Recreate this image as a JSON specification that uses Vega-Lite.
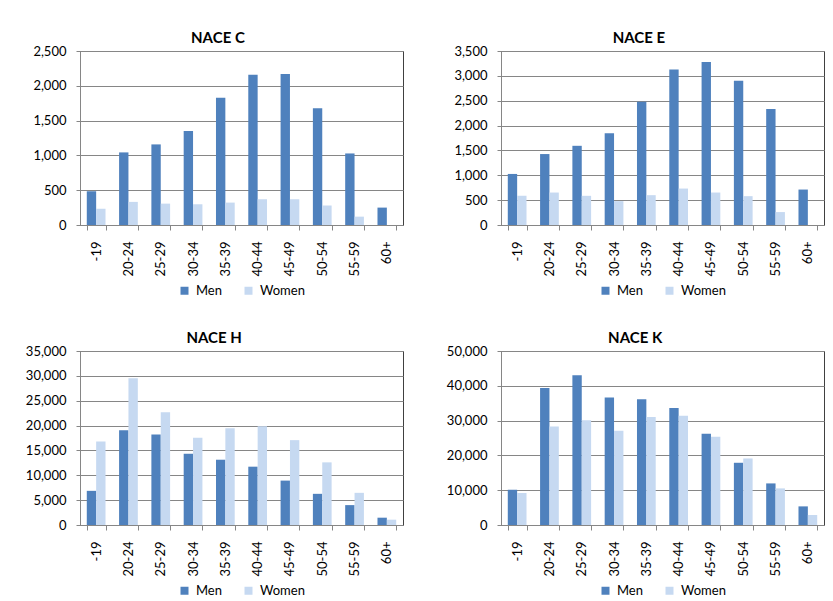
{
  "$schema": "https://vega.github.io/schema/vega-lite/v6.json",
  "background": "white",
  "padding": {"left": 24, "top": 30, "right": 5, "bottom": 0},
  "datasets": {
    "employees": [
      {"sector": "NACE C", "age": "-19", "sex": "Men", "value": 485},
      {"sector": "NACE C", "age": "20-24", "sex": "Men", "value": 1043},
      {"sector": "NACE C", "age": "25-29", "sex": "Men", "value": 1158},
      {"sector": "NACE C", "age": "30-34", "sex": "Men", "value": 1350},
      {"sector": "NACE C", "age": "35-39", "sex": "Men", "value": 1830},
      {"sector": "NACE C", "age": "40-44", "sex": "Men", "value": 2157},
      {"sector": "NACE C", "age": "45-49", "sex": "Men", "value": 2170},
      {"sector": "NACE C", "age": "50-54", "sex": "Men", "value": 1676},
      {"sector": "NACE C", "age": "55-59", "sex": "Men", "value": 1028},
      {"sector": "NACE C", "age": "60+", "sex": "Men", "value": 250},
      {"sector": "NACE C", "age": "-19", "sex": "Women", "value": 235},
      {"sector": "NACE C", "age": "20-24", "sex": "Women", "value": 332},
      {"sector": "NACE C", "age": "25-29", "sex": "Women", "value": 307},
      {"sector": "NACE C", "age": "30-34", "sex": "Women", "value": 298},
      {"sector": "NACE C", "age": "35-39", "sex": "Women", "value": 322},
      {"sector": "NACE C", "age": "40-44", "sex": "Women", "value": 370},
      {"sector": "NACE C", "age": "45-49", "sex": "Women", "value": 370},
      {"sector": "NACE C", "age": "50-54", "sex": "Women", "value": 280},
      {"sector": "NACE C", "age": "55-59", "sex": "Women", "value": 120},
      {"sector": "NACE C", "age": "60+", "sex": "Women", "value": 0},
      {"sector": "NACE E", "age": "-19", "sex": "Men", "value": 1027},
      {"sector": "NACE E", "age": "20-24", "sex": "Men", "value": 1427},
      {"sector": "NACE E", "age": "25-29", "sex": "Men", "value": 1593},
      {"sector": "NACE E", "age": "30-34", "sex": "Men", "value": 1847},
      {"sector": "NACE E", "age": "35-39", "sex": "Men", "value": 2480},
      {"sector": "NACE E", "age": "40-44", "sex": "Men", "value": 3127},
      {"sector": "NACE E", "age": "45-49", "sex": "Men", "value": 3280},
      {"sector": "NACE E", "age": "50-54", "sex": "Men", "value": 2900},
      {"sector": "NACE E", "age": "55-59", "sex": "Men", "value": 2333},
      {"sector": "NACE E", "age": "60+", "sex": "Men", "value": 713},
      {"sector": "NACE E", "age": "-19", "sex": "Women", "value": 587},
      {"sector": "NACE E", "age": "20-24", "sex": "Women", "value": 653},
      {"sector": "NACE E", "age": "25-29", "sex": "Women", "value": 587},
      {"sector": "NACE E", "age": "30-34", "sex": "Women", "value": 480},
      {"sector": "NACE E", "age": "35-39", "sex": "Women", "value": 600},
      {"sector": "NACE E", "age": "40-44", "sex": "Women", "value": 733},
      {"sector": "NACE E", "age": "45-49", "sex": "Women", "value": 653},
      {"sector": "NACE E", "age": "50-54", "sex": "Women", "value": 580},
      {"sector": "NACE E", "age": "55-59", "sex": "Women", "value": 260},
      {"sector": "NACE E", "age": "60+", "sex": "Women", "value": 0},
      {"sector": "NACE H", "age": "-19", "sex": "Men", "value": 6870},
      {"sector": "NACE H", "age": "20-24", "sex": "Men", "value": 19070},
      {"sector": "NACE H", "age": "25-29", "sex": "Men", "value": 18200},
      {"sector": "NACE H", "age": "30-34", "sex": "Men", "value": 14330},
      {"sector": "NACE H", "age": "35-39", "sex": "Men", "value": 13130},
      {"sector": "NACE H", "age": "40-44", "sex": "Men", "value": 11730},
      {"sector": "NACE H", "age": "45-49", "sex": "Men", "value": 8930},
      {"sector": "NACE H", "age": "50-54", "sex": "Men", "value": 6270},
      {"sector": "NACE H", "age": "55-59", "sex": "Men", "value": 4000},
      {"sector": "NACE H", "age": "60+", "sex": "Men", "value": 1470},
      {"sector": "NACE H", "age": "-19", "sex": "Women", "value": 16800},
      {"sector": "NACE H", "age": "20-24", "sex": "Women", "value": 29530},
      {"sector": "NACE H", "age": "25-29", "sex": "Women", "value": 22670},
      {"sector": "NACE H", "age": "30-34", "sex": "Women", "value": 17530},
      {"sector": "NACE H", "age": "35-39", "sex": "Women", "value": 19470},
      {"sector": "NACE H", "age": "40-44", "sex": "Women", "value": 19870},
      {"sector": "NACE H", "age": "45-49", "sex": "Women", "value": 17070},
      {"sector": "NACE H", "age": "50-54", "sex": "Women", "value": 12600},
      {"sector": "NACE H", "age": "55-59", "sex": "Women", "value": 6470},
      {"sector": "NACE H", "age": "60+", "sex": "Women", "value": 1070},
      {"sector": "NACE K", "age": "-19", "sex": "Men", "value": 10130},
      {"sector": "NACE K", "age": "20-24", "sex": "Men", "value": 39390},
      {"sector": "NACE K", "age": "25-29", "sex": "Men", "value": 43020},
      {"sector": "NACE K", "age": "30-34", "sex": "Men", "value": 36620},
      {"sector": "NACE K", "age": "35-39", "sex": "Men", "value": 36140},
      {"sector": "NACE K", "age": "40-44", "sex": "Men", "value": 33650},
      {"sector": "NACE K", "age": "45-49", "sex": "Men", "value": 26200},
      {"sector": "NACE K", "age": "50-54", "sex": "Men", "value": 17880},
      {"sector": "NACE K", "age": "55-59", "sex": "Men", "value": 11950},
      {"sector": "NACE K", "age": "60+", "sex": "Men", "value": 5350},
      {"sector": "NACE K", "age": "-19", "sex": "Women", "value": 9180},
      {"sector": "NACE K", "age": "20-24", "sex": "Women", "value": 28300},
      {"sector": "NACE K", "age": "25-29", "sex": "Women", "value": 30110},
      {"sector": "NACE K", "age": "30-34", "sex": "Women", "value": 27060},
      {"sector": "NACE K", "age": "35-39", "sex": "Women", "value": 31070},
      {"sector": "NACE K", "age": "40-44", "sex": "Women", "value": 31360},
      {"sector": "NACE K", "age": "45-49", "sex": "Women", "value": 25330},
      {"sector": "NACE K", "age": "50-54", "sex": "Women", "value": 19120},
      {"sector": "NACE K", "age": "55-59", "sex": "Women", "value": 10520},
      {"sector": "NACE K", "age": "60+", "sex": "Women", "value": 2870}
    ]
  },
  "columns": 2,
  "spacing": {"row": 126, "column": 98},
  "bounds": "flush",
  "resolve": {
    "scale": {"color": "independent", "y": "independent"},
    "legend": {"color": "independent"}
  },
  "concat": [
    {
      "title": "NACE C",
      "width": 323, "height": 174,
      "data": {"name": "employees"},
      "transform": [{"filter": "datum.sector === 'NACE C'"}],
      "mark": "bar",
      "encoding": {
        "x": {"field": "age", "type": "nominal", "sort": ["-19", "20-24", "25-29", "30-34", "35-39", "40-44", "45-49", "50-54", "55-59", "60+"], "scale": {"paddingInner": 0.42, "paddingOuter": 0.21}},
        "xOffset": {"field": "sex", "type": "nominal", "scale": {"paddingInner": 0, "paddingOuter": 0}},
        "y": {"field": "value", "type": "quantitative", "scale": {"domain": [0, 2500]}, "axis": {"tickCount": 5}},
        "color": {"field": "sex", "type": "nominal", "scale": {"domain": ["Men", "Women"], "range": ["#4F81BD", "#C6D9F1"]}}
      }
    },
    {
      "title": "NACE E",
      "width": 323, "height": 174,
      "data": {"name": "employees"},
      "transform": [{"filter": "datum.sector === 'NACE E'"}],
      "mark": "bar",
      "encoding": {
        "x": {"field": "age", "type": "nominal", "sort": ["-19", "20-24", "25-29", "30-34", "35-39", "40-44", "45-49", "50-54", "55-59", "60+"], "scale": {"paddingInner": 0.42, "paddingOuter": 0.21}},
        "xOffset": {"field": "sex", "type": "nominal", "scale": {"paddingInner": 0, "paddingOuter": 0}},
        "y": {"field": "value", "type": "quantitative", "scale": {"domain": [0, 3500]}, "axis": {"tickCount": 7}},
        "color": {"field": "sex", "type": "nominal", "scale": {"domain": ["Men", "Women"], "range": ["#4F81BD", "#C6D9F1"]}}
      }
    },
    {
      "title": "NACE H",
      "width": 323, "height": 174,
      "data": {"name": "employees"},
      "transform": [{"filter": "datum.sector === 'NACE H'"}],
      "mark": "bar",
      "encoding": {
        "x": {"field": "age", "type": "nominal", "sort": ["-19", "20-24", "25-29", "30-34", "35-39", "40-44", "45-49", "50-54", "55-59", "60+"], "scale": {"paddingInner": 0.42, "paddingOuter": 0.21}},
        "xOffset": {"field": "sex", "type": "nominal", "scale": {"paddingInner": 0, "paddingOuter": 0}},
        "y": {"field": "value", "type": "quantitative", "scale": {"domain": [0, 35000]}, "axis": {"tickCount": 7}},
        "color": {"field": "sex", "type": "nominal", "scale": {"domain": ["Men", "Women"], "range": ["#4F81BD", "#C6D9F1"]}}
      }
    },
    {
      "title": "NACE K",
      "width": 323, "height": 174,
      "data": {"name": "employees"},
      "transform": [{"filter": "datum.sector === 'NACE K'"}],
      "mark": "bar",
      "encoding": {
        "x": {"field": "age", "type": "nominal", "sort": ["-19", "20-24", "25-29", "30-34", "35-39", "40-44", "45-49", "50-54", "55-59", "60+"], "scale": {"paddingInner": 0.42, "paddingOuter": 0.21}},
        "xOffset": {"field": "sex", "type": "nominal", "scale": {"paddingInner": 0, "paddingOuter": 0}},
        "y": {"field": "value", "type": "quantitative", "scale": {"domain": [0, 50000]}, "axis": {"tickCount": 5}},
        "color": {"field": "sex", "type": "nominal", "scale": {"domain": ["Men", "Women"], "range": ["#4F81BD", "#C6D9F1"]}}
      }
    }
  ],
  "config": {
    "font": "Lato",
    "view": {"stroke": "#404040", "strokeWidth": 1},
    "title": {"font": "Lato", "fontSize": 15, "fontWeight": "bold", "color": "#000000", "anchor": "middle", "frame": "bounds", "offset": -1},
    "axis": {"title": null, "labelFont": "Lato", "labelFontSize": 13, "labelColor": "#000000", "domainColor": "#868686", "tickColor": "#868686", "gridColor": "#868686", "gridOpacity": 1},
    "axisY": {"grid": true, "tickSize": 4, "labelPadding": 10, "format": ",d"},
    "axisX": {"grid": false, "labelAngle": 270, "tickSize": 5, "tickBand": "extent", "labelPadding": 11},
    "legend": {"orient": "bottom", "direction": "horizontal", "title": null, "labelFont": "Lato", "labelFontSize": 13, "labelColor": "#000000", "symbolType": "square", "symbolSize": 64, "symbolStrokeWidth": 0, "columnPadding": 20, "labelOffset": 5, "offset": 8, "layout": {"bottom": {"anchor": "middle"}}}
  }
}
